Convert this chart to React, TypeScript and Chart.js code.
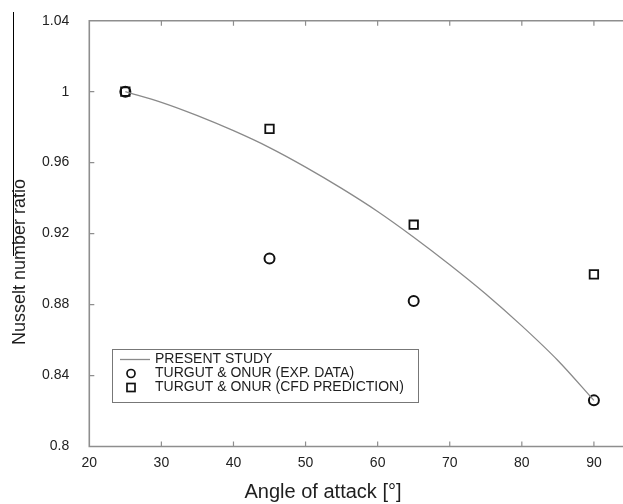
import React, { useEffect, useRef } from "react";
import { Chart, registerables } from "chart.js";

Chart.register(...registerables);

// ---- data ----
const measuredAngles = [25, 45, 65, 90];
const expValues = [1.0, 0.906, 0.882, 0.826];
const cfdValues = [1.0, 0.979, 0.925, 0.897];
const studyAngles = [25, 30, 35, 40, 45, 50, 55, 60, 65, 70, 75, 80, 85, 90];
const studyValues = [1.0, 0.994, 0.9865, 0.978, 0.9685, 0.9575, 0.9455, 0.9325, 0.918, 0.9025, 0.886, 0.868, 0.8485, 0.826];
const xTicks = [20, 30, 40, 50, 60, 70, 80, 90, 100];
const xTickLabels = ["20", "30", "40", "50", "60", "70", "80", "90", "100"];
const yTicks = [0.8, 0.84, 0.88, 0.92, 0.96, 1.0, 1.04];
const yTickLabels = ["0.8", "0.84", "0.88", "0.92", "0.96", "1", "1.04"];
const seriesLabels = ["PRESENT STUDY", "TURGUT & ONUR (EXP. DATA)", "TURGUT & ONUR (CFD PREDICTION)"];
const xTitle = "Angle of attack [°]";
const yTitle = "Nusselt number ratio";

const FONT = "'Liberation Sans', Arial, sans-serif";

const framePlugin = {
  id: "frame",
  afterDatasetsDraw(chart: any) {
    const { ctx, chartArea } = chart;
    const xs = chart.scales.x;
    const ys = chart.scales.y;
    const { left, right, top, bottom } = chartArea;
    ctx.save();
    ctx.strokeStyle = "#8e8e8e";
    ctx.lineWidth = 1.6;
    ctx.beginPath();
    ctx.moveTo(right, top);
    ctx.lineTo(left, top);
    ctx.lineTo(left, bottom);
    ctx.lineTo(right, bottom);
    ctx.stroke();
    ctx.lineWidth = 1.2;
    ctx.beginPath();
    xTicks.forEach((v) => {
      const px = xs.getPixelForValue(v);
      if (px <= left + 1 || px >= right - 1) return;
      ctx.moveTo(px, bottom);
      ctx.lineTo(px, bottom - 5);
      ctx.moveTo(px, top);
      ctx.lineTo(px, top + 5);
    });
    yTicks.forEach((v) => {
      const py = ys.getPixelForValue(v);
      if (py <= top + 1 || py >= bottom - 1) return;
      ctx.moveTo(left, py);
      ctx.lineTo(left + 5, py);
    });
    ctx.stroke();

    // axis titles
    ctx.fillStyle = "#1e1e1e";
    ctx.textAlign = "center";
    ctx.textBaseline = "middle";
    ctx.font = `20px ${FONT}`;
    ctx.fillText(xTitle, 323, 492);
    ctx.font = `18px ${FONT}`;
    ctx.save();
    ctx.translate(20, 262);
    ctx.rotate(-Math.PI / 2);
    ctx.fillText(yTitle, 0, 0);
    ctx.restore();

    // scan edge line
    ctx.strokeStyle = "#000";
    ctx.lineWidth = 1;
    ctx.beginPath();
    ctx.moveTo(13.5, 12);
    ctx.lineTo(13.5, 256);
    ctx.stroke();

    // legend
    const bx = 112, by = 349, bw = 306, bh = 53;
    ctx.fillStyle = "#fff";
    ctx.fillRect(bx, by, bw, bh);
    ctx.strokeStyle = "#777";
    ctx.lineWidth = 1;
    ctx.strokeRect(bx + 0.5, by + 0.5, bw, bh);
    const rows = [359.5, 373.5, 387.5];
    chart.data.datasets.forEach((ds: any, i: number) => {
      const y = rows[i];
      ctx.strokeStyle = ds.borderColor;
      if (i === 0) {
        ctx.lineWidth = ds.borderWidth;
        ctx.beginPath();
        ctx.moveTo(120, y);
        ctx.lineTo(150, y);
        ctx.stroke();
      } else if (ds.pointStyle === "circle") {
        ctx.lineWidth = 1.7;
        ctx.beginPath();
        ctx.arc(131, y, 4, 0, Math.PI * 2);
        ctx.stroke();
      } else {
        ctx.lineWidth = 1.7;
        ctx.strokeRect(127, y - 4, 8, 8);
      }
      ctx.fillStyle = "#1e1e1e";
      ctx.font = `14px ${FONT}`;
      ctx.textAlign = "left";
      ctx.textBaseline = "middle";
      ctx.fillText(ds.label, 155, y);
    });
    ctx.restore();
  },
};

export default function App() {
  const ref = useRef<HTMLCanvasElement>(null);
  useEffect(() => {
    if (!ref.current) return;
    const chart = new Chart(ref.current, {
      type: "scatter",
      data: {
        datasets: [
          {
            label: seriesLabels[0],
            type: "line",
            data: studyAngles.map((a, i) => ({ x: a, y: studyValues[i] })),
            borderColor: "#8a8a8a",
            borderWidth: 1.3,
            pointRadius: 0,
            cubicInterpolationMode: "monotone",
            fill: false,
          } as any,
          {
            label: seriesLabels[1],
            data: measuredAngles.map((a, i) => ({ x: a, y: expValues[i] })),
            pointStyle: "circle",
            pointRadius: 5,
            pointBorderWidth: 2,
            borderColor: "#111",
            backgroundColor: "rgba(255,255,255,0)",
            pointBorderColor: "#111",
            pointBackgroundColor: "rgba(255,255,255,0)",
          },
          {
            label: seriesLabels[2],
            data: measuredAngles.map((a, i) => ({ x: a, y: cfdValues[i] })),
            pointStyle: "rect",
            pointRadius: 6,
            pointBorderWidth: 1.8,
            borderColor: "#111",
            backgroundColor: "rgba(255,255,255,0)",
            pointBorderColor: "#111",
            pointBackgroundColor: "rgba(255,255,255,0)",
          },
        ],
      },
      options: {
        animation: false,
        responsive: false,
        devicePixelRatio: 1,
        layout: { padding: 0 },
        plugins: { legend: { display: false }, tooltip: { enabled: false }, title: { display: false } },
        scales: {
          x: {
            type: "linear",
            min: 20,
            max: 100,
            afterBuildTicks: (s: any) => {
              s.ticks = xTicks.map((v) => ({ value: v }));
            },
            afterFit: (s: any) => {
              s.height = 57.5;
              s.paddingLeft = 0;
              s.paddingRight = 14;
            },
            ticks: {
              callback: (_v: any, i: number) => xTickLabels[i],
              font: { family: FONT, size: 14 },
              color: "#222",
              padding: 8,
              maxRotation: 0,
              autoSkip: false,
            },
            grid: { display: false, drawTicks: false },
            border: { display: false },
          },
          y: {
            type: "linear",
            min: 0.8,
            max: 1.04,
            afterBuildTicks: (s: any) => {
              s.ticks = yTicks.map((v) => ({ value: v }));
            },
            afterFit: (s: any) => {
              s.width = 89.3;
              s.paddingTop = 20.7;
              s.paddingBottom = 0;
            },
            ticks: {
              callback: (_v: any, i: number) => yTickLabels[i],
              font: { family: FONT, size: 14 },
              color: "#222",
              padding: 20,
              autoSkip: false,
            },
            grid: { display: false, drawTicks: false },
            border: { display: false },
          },
        },
      },
      plugins: [framePlugin],
    });
    return () => chart.destroy();
  }, []);
  return (
    <div
      style={{
        position: "fixed",
        left: 0,
        top: 0,
        width: 623,
        height: 504,
        overflow: "hidden",
        background: "#fff",
      }}
    >
      <canvas ref={ref} width={680} height={504} style={{ display: "block", width: 680, height: 504 }} />
    </div>
  );
}
